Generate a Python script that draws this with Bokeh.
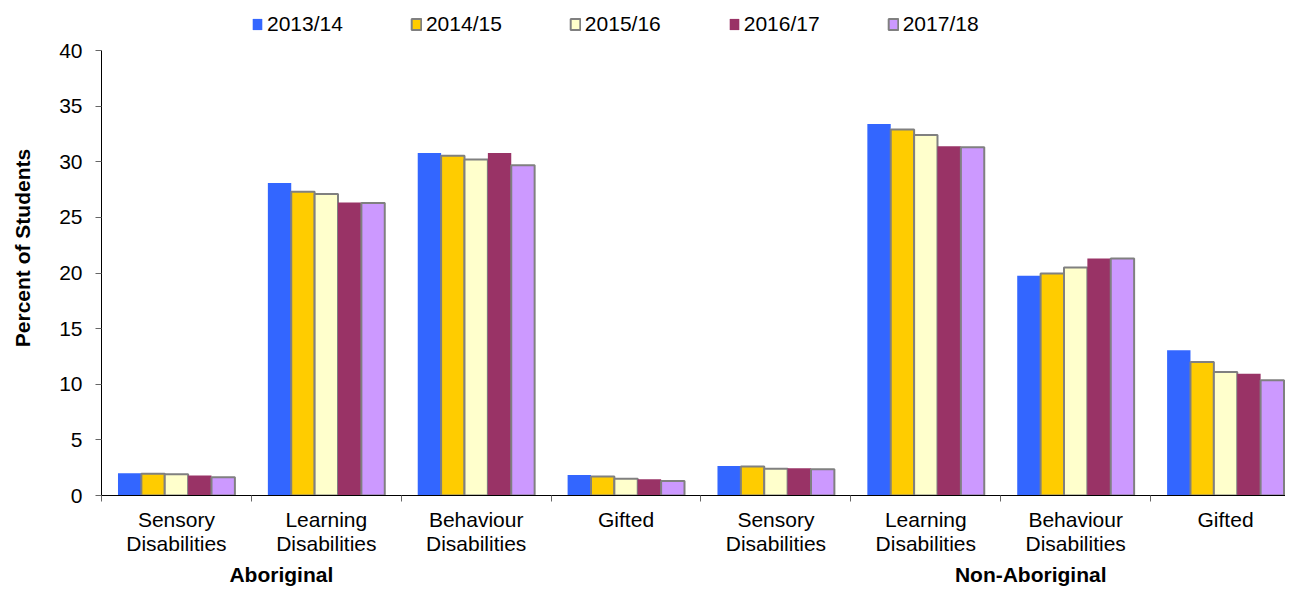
from bokeh.plotting import figure
from bokeh.models import (Range1d, FixedTicker, LinearAxis, Legend, LegendItem)
from bokeh.embed import file_html
from bokeh.resources import INLINE
import numpy as np

# ---- data ----
categories = ["Sensory\nDisabilities", "Learning\nDisabilities", "Behaviour\nDisabilities", "Gifted",
              "Sensory\nDisabilities", "Learning\nDisabilities", "Behaviour\nDisabilities", "Gifted"]
groups = ["Aboriginal", "Non-Aboriginal"]
group_pos = [1.2, 6.2]
years = ["2013/14", "2014/15", "2015/16", "2016/17", "2017/18"]
v_2013_14 = [2.0, 28.1, 30.8, 1.85, 2.65, 33.4, 19.75, 13.05]
v_2014_15 = [1.95, 27.3, 30.55, 1.7, 2.6, 32.9, 19.95, 12.0]
v_2015_16 = [1.9, 27.1, 30.2, 1.5, 2.4, 32.4, 20.5, 11.1]
v_2016_17 = [1.8, 26.35, 30.8, 1.45, 2.45, 31.4, 21.3, 10.95]
v_2017_18 = [1.65, 26.3, 29.7, 1.3, 2.35, 31.3, 21.3, 10.35]
y_ticks = [0, 5, 10, 15, 20, 25, 30, 35, 40]

series = [v_2013_14, v_2014_15, v_2015_16, v_2016_17, v_2017_18]
fills = ["#3366FF", "#FFCC00", "#FFFFCC", "#993366", "#CC99FF"]
outlines = [None, "#808080", "#808080", None, "#808080"]

FONT = "Liberation Sans"

# the frame reaches the top of the figure so that the legend sits inside it;
# the y axis itself is bounded to 0..40
p = figure(width=1285, height=588, output_backend="svg", toolbar_location=None,
           x_range=Range1d(0, 7.9), y_range=Range1d(0, 44.5),
           min_border_left=101, min_border_top=0, min_border_right=0, min_border_bottom=0)
p.outline_line_color = None
p.xgrid.grid_line_color = None
p.ygrid.grid_line_color = None
p.background_fill_color = "white"

bw = 0.156
idx = np.arange(len(categories))
renderers = []
for i, (vals, fc, lc) in enumerate(zip(series, fills, outlines)):
    xs = idx + 0.5 + (i - 2) * bw
    if lc is None:
        r = p.vbar(x=xs, top=vals, width=bw, bottom=0, fill_color=fc, line_color=None)
    else:
        r = p.vbar(x=xs, top=vals, width=bw, bottom=0, fill_color=fc, line_color=lc, line_width=2)
    renderers.append(r)

# y axis
yax = p.yaxis[0]
yax.bounds = (y_ticks[0], y_ticks[-1])
yax.ticker = FixedTicker(ticks=y_ticks)
yax.minor_tick_line_color = None
yax.major_tick_in = 0
yax.major_tick_out = 6
yax.major_tick_line_color = "#666666"
yax.axis_line_color = "black"
yax.major_label_text_font = FONT
yax.major_label_text_font_size = "21px"
yax.major_label_text_color = "black"
yax.major_label_standoff = 13
yax.axis_label = "Percent of Students"
yax.axis_label_text_font = FONT
yax.axis_label_text_font_size = "21px"
yax.axis_label_text_font_style = "bold"
yax.axis_label_text_color = "black"
yax.axis_label_standoff = 22

# x axis (categories)
xax = p.xaxis[0]
xax.ticker = FixedTicker(ticks=list(idx + 0.5), minor_ticks=list(range(len(categories) + 1)))
xax.major_label_overrides = {float(i + 0.5): c for i, c in enumerate(categories)}
xax.major_tick_line_color = None
xax.major_tick_in = 0
xax.major_tick_out = 6
xax.minor_tick_in = 0
xax.minor_tick_out = 6
xax.minor_tick_line_color = "#666666"
xax.axis_line_color = "black"
xax.major_label_text_font = FONT
xax.major_label_text_font_size = "21px"
xax.major_label_text_color = "black"
xax.major_label_text_line_height = 1.06
xax.major_label_standoff = 6

# group axis
gax = LinearAxis(ticker=FixedTicker(ticks=group_pos, minor_ticks=[]),
                 major_label_overrides={float(g): n for g, n in zip(group_pos, groups)})
gax.axis_line_color = None
gax.major_tick_line_color = None
gax.minor_tick_line_color = None
gax.major_tick_in = 0
gax.major_tick_out = 0
gax.major_label_text_font = FONT
gax.major_label_text_font_size = "21px"
gax.major_label_text_font_style = "bold"
gax.major_label_text_color = "black"
gax.major_label_standoff = 5
p.add_layout(gax, "below")

# legend
legend = Legend(items=[LegendItem(label=y, renderers=[r]) for y, r in zip(years, renderers)],
                orientation="horizontal", location=(150, 459),
                glyph_width=12, glyph_height=14, label_standoff=4, spacing=67,
                padding=0, margin=0, border_line_color=None, background_fill_alpha=0,
                label_text_font=FONT, label_text_font_size="21px", label_text_color="black")
p.add_layout(legend, "center")

open("out.html", "w").write(file_html(p, INLINE))
